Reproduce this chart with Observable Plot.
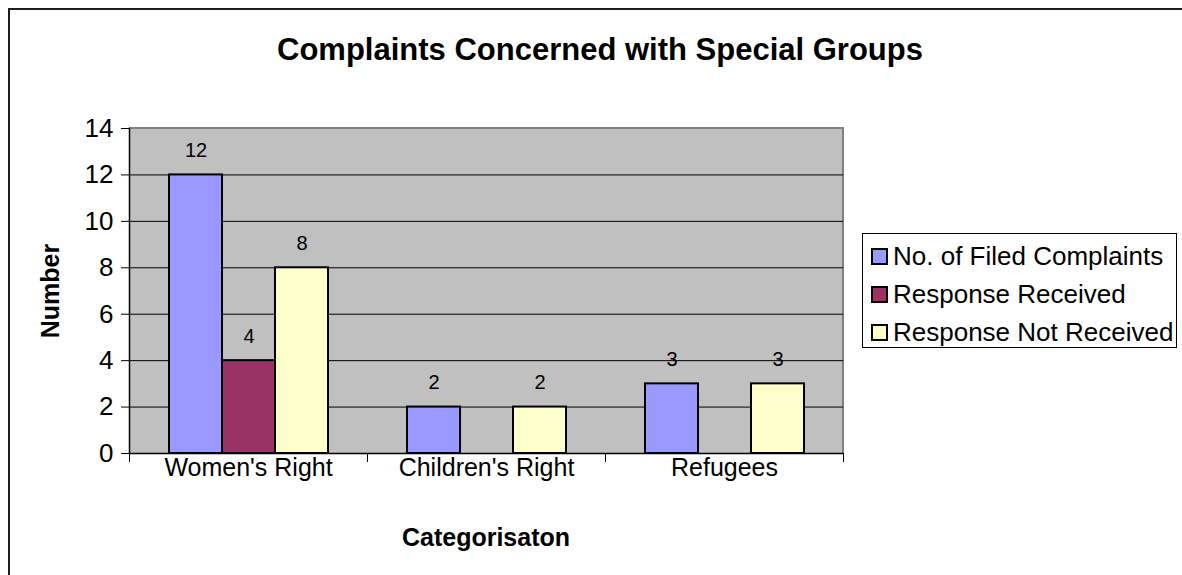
<!DOCTYPE html>
<html>
<head>
<meta charset="utf-8">
<script src="https://cdn.jsdelivr.net/npm/d3@7"></script>
<script src="https://cdn.jsdelivr.net/npm/@observablehq/plot@0.6"></script>
<style>
  html, body { margin: 0; padding: 0; background: #fff; overflow: hidden; }
  #chart {
    position: relative; width: 1182px; height: 575px; overflow: hidden;
    font-family: "Liberation Sans", Arial, sans-serif; color: #000;
  }
  #border {
    position: absolute; left: 8px; top: 8px; width: 1300px; height: 700px;
    border-left: 2px solid #1e1e1e; border-top: 2px solid #1e1e1e; box-sizing: border-box;
  }
  #plotbg {
    position: absolute; background: #C0C0C0; box-sizing: border-box;
    border-top: 2px solid #808080; border-right: 2px solid #808080;
  }
  #plot { position: absolute; left: 0; top: 0; }
  .title {
    position: absolute; left: 0; width: 1200px; top: 31px; text-align: center;
    font-weight: bold; font-size: 31px; line-height: 38px;
  }
  .ylabel {
    position: absolute; left: 50px; top: 291px; transform: translate(-50%, -50%) rotate(-90deg);
    font-weight: bold; font-size: 25px; white-space: nowrap;
  }
  .xlabel {
    position: absolute; left: 486px; top: 537px; transform: translate(-50%, -50%);
    font-weight: bold; font-size: 25px; white-space: nowrap;
  }
  .legend {
    position: absolute; left: 862px; top: 233px; width: 315px; height: 115px;
    border: 1.5px solid #000; box-sizing: border-box; background: #fff;
    padding: 3px 0 0 8px;
  }
  .legend .row { display: flex; align-items: center; height: 38px; font-size: 26px; white-space: nowrap; }
  .legend .sw { width: 13px; height: 13px; border: 2px solid #000; margin-right: 5px; flex: none; }
</style>
</head>
<body>
<div id="chart">
  <div id="border"></div>
  <div id="plotbg"></div>
  <div id="plot"></div>
  <div class="title" id="title"></div>
  <div class="ylabel" id="ylabel"></div>
  <div class="xlabel" id="xlabel"></div>
  <div class="legend" id="legend"></div>
</div>
<script>
// Complaint categories and the three counted series
const categories = ["Women's Right", "Children's Right", "Refugees"];
const seriesNames = ["No. of Filed Complaints", "Response Received", "Response Not Received"];
const seriesColors = ["#9999FF", "#993366", "#FFFFCC"];

// Values per series, in category order (null = no bar)
const filedComplaints = [12, 2, 3];
const responseReceived = [4, null, null];
const responseNotReceived = [8, 2, 3];

const yTicks = [0, 2, 4, 6, 8, 10, 12, 14];
const gridTicks = [2, 4, 6, 8, 10, 12];

const titleText = "Complaints Concerned with Special Groups";
const yTitle = "Number";
const xTitle = "Categorisaton";

const seriesValues = [filedComplaints, responseReceived, responseNotReceived];
const rows = [];
categories.forEach((c, i) => {
  seriesNames.forEach((s, j) => {
    const v = seriesValues[j][i];
    if (v != null) rows.push({category: c, series: s, value: v});
  });
});

// plot area 714 px wide so each of the three category panels is a whole 238 px
const W = 1182, H = 575;
const mTop = 128, mBottom = 122, mLeft = 129, mRight = 339;
const frameH = H - mTop - mBottom;

// one continuous grey panel (with its grey top and right edge) behind the faceted plot area
const bg = document.getElementById("plotbg");
bg.style.left = mLeft + "px";
bg.style.top = (mTop - 1) + "px";
bg.style.width = (W - mLeft - mRight + 1) + "px";
bg.style.height = (frameH + 1) + "px";

const chart = Plot.plot({
  width: W,
  height: H,
  marginTop: mTop,
  marginBottom: mBottom,
  marginLeft: mLeft,
  marginRight: mRight,
  style: {
    fontFamily: "'Liberation Sans', Arial, sans-serif",
    fontSize: "25px",
    color: "#000",
    background: "transparent",
    overflow: "visible"
  },
  fx: {domain: categories, paddingInner: 0, paddingOuter: 0, label: null},
  x: {domain: seriesNames, paddingInner: 0, paddingOuter: 0.745, axis: null},
  y: {domain: [0, 14], label: null},
  color: {domain: seriesNames, range: seriesColors},
  marks: [
    Plot.ruleY(gridTicks, {stroke: "#000", strokeWidth: 1}),
    // bars
    Plot.barY(rows, {
      fx: "category", x: "series", y: "value",
      fill: "series", stroke: "#000", strokeWidth: 2
    }),
    // value labels
    Plot.text(rows, {
      fx: "category", x: "series", y: "value", text: "value",
      dy: -24, fontSize: 20, fill: "#000"
    }),
    // axis lines
    Plot.ruleY([0], {stroke: "#000", strokeWidth: 1.5}),
    Plot.frame({anchor: "left", facetAnchor: "left", stroke: "#000", strokeWidth: 1.5}),
    // category boundary ticks
    Plot.frame({anchor: "left", insetTop: frameH, insetBottom: -8, stroke: "#000", strokeWidth: 1}),
    Plot.frame({anchor: "right", facetAnchor: "right", insetTop: frameH, insetBottom: -8, stroke: "#000", strokeWidth: 1}),
    Plot.axisY({ticks: yTicks, tickSize: 8, tickPadding: 8, label: null, fontSize: 26}),
    Plot.axisFx({anchor: "bottom", tickSize: 0, tickPadding: 5, label: null, fontSize: 25})
  ]
});
document.getElementById("plot").appendChild(chart);

document.getElementById("title").textContent = titleText;
document.getElementById("ylabel").textContent = yTitle;
document.getElementById("xlabel").textContent = xTitle;

const legend = document.getElementById("legend");
seriesNames.forEach((s, i) => {
  const row = document.createElement("div");
  row.className = "row";
  const sw = document.createElement("span");
  sw.className = "sw";
  sw.style.background = seriesColors[i];
  const label = document.createElement("span");
  label.textContent = s;
  row.appendChild(sw);
  row.appendChild(label);
  legend.appendChild(row);
});
</script>
</body>
</html>
